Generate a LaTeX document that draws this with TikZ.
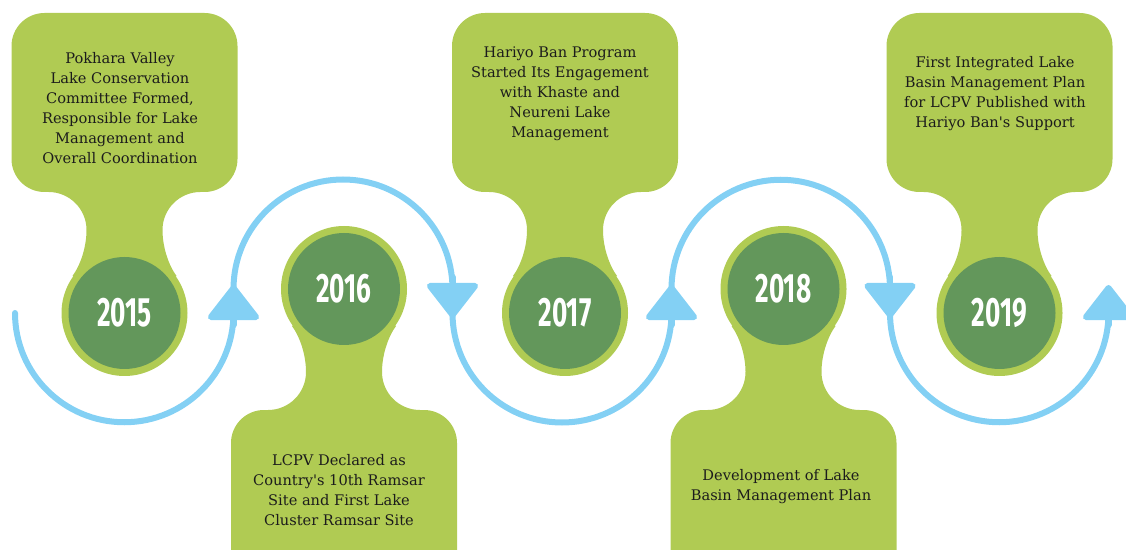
\documentclass[tikz,border=0pt]{standalone}
\usepackage{fontspec}
\setmainfont{DejaVu Serif}
\newfontfamily\yearfont[FakeStretch=0.64]{Fira Sans}
\usetikzlibrary{arrows.meta, calc}

\definecolor{limegreen}{RGB}{176,203,83}
\definecolor{leafgreen}{RGB}{99,151,91}
\definecolor{skyblue}{RGB}{131,208,244}
\definecolor{inkgray}{RGB}{28,28,28}

\begin{document}
\begin{tikzpicture}[
        x=1pt, y=1pt,
        yearball/.style={circle, fill=leafgreen, minimum size=112pt, inner sep=0pt, text=white,
            font=\yearfont\bfseries\fontsize{41}{41}\selectfont},
        desc/.style={align=center, text=inkgray, font=\fontsize{14.6}{20}\selectfont},
        card/.style={fill=limegreen, rounded corners=33pt},
        wave/.style={draw=skyblue, line width=6pt, line cap=round},
        wavehead/.style={-{Triangle[width=56pt, length=37pt, round]}}
    ]
    \useasboundingbox (0,0) rectangle (1126,549);
    \clip (0,0) rectangle (1126,549);

    % Cards, stems and outer rings (top cards: s=1, bottom cards: s=-1)
    \foreach \cx/\cy/\s in {124.5/236/1, 344/260/-1, 565/236/1, 783.5/260/-1, 999.5/236/1}{
        \begin{scope}[shift={(\cx,\cy)}, yscale=\s]
            \fill[card] (-113,121) rectangle (113,300);
            \fill[limegreen] (-76,123) -- (76,123) -- (76,121)
                .. controls (55,121) and (38,104) .. (38,83)
                .. controls (38,66) and (44,48) .. (52,37) -- (0,0) -- (-52,37)
                .. controls (-44,48) and (-38,66) .. (-38,83)
                .. controls (-38,104) and (-55,121) .. (-76,121) -- cycle;
            \fill[limegreen] (0,0) circle (63);
        \end{scope}
    }

    % Years
    \node[yearball] (y2015) at (124.5,236) {2015};
    \node[yearball] (y2016) at (344,260) {2016};
    \node[yearball] (y2017) at (565,236) {2017};
    \node[yearball] (y2018) at (783.5,260) {2018};
    \node[yearball] (y2019) at (999.5,236) {2019};

    % Milestones
    \node[desc] (d2015) at (120,441) {Pokhara Valley\\ Lake Conservation\\ Committee Formed,\\ Responsible for Lake\\ Management and\\ Overall Coordination};
    \node[desc] (d2016) at (339,59) {LCPV Declared as\\ Country\textquotesingle s 10th Ramsar\\ Site and First Lake\\ Cluster Ramsar Site};
    \node[desc] (d2017) at (560,455) {Hariyo Ban Program\\ Started Its Engagement\\ with Khaste and\\ Neureni Lake\\ Management};
    \node[desc] (d2018) at (781,62) {Development of Lake\\ Basin Management Plan};
    \node[desc] (d2019) at (995,455) {First Integrated Lake\\ Basin Management Plan\\ for LCPV Published with\\ Hariyo Ban\textquotesingle s Support};

    % Wave junctions
    \coordinate (j0) at (15,236);
    \coordinate (j1) at (233.5,236);
    \coordinate (j2) at (452.5,236);
    \coordinate (j3) at (671.5,236);
    \coordinate (j4) at (890,236);
    \coordinate (j5) at (1108.5,236);

    % Wave
    \draw[wave] (j0) arc[start angle=180, end angle=360, radius=109.25];
    \draw[wave] (j1) -- ++(0,24) arc[start angle=180, end angle=0, radius=109.5] -- (j2);
    \draw[wave] (j2) arc[start angle=180, end angle=360, radius=109.5];
    \draw[wave] (j3) -- ++(0,24) arc[start angle=180, end angle=0, radius=109.25] -- (j4);
    \draw[wave] (j4) arc[start angle=180, end angle=360, radius=109.25];

    % Arrowheads
    \draw[wave, wavehead] ($(j1)+(0,-12)$) -- ++(0,40);
    \draw[wave, wavehead] ($(j2)+(0,36)$) -- ++(0,-41);
    \draw[wave, wavehead] ($(j3)+(0,-12)$) -- ++(0,40);
    \draw[wave, wavehead] ($(j4)+(0,36)$) -- ++(0,-41);
    \draw[wave, wavehead] ($(j5)+(0,-12)$) -- ++(0,40);

\end{tikzpicture}
\end{document}
